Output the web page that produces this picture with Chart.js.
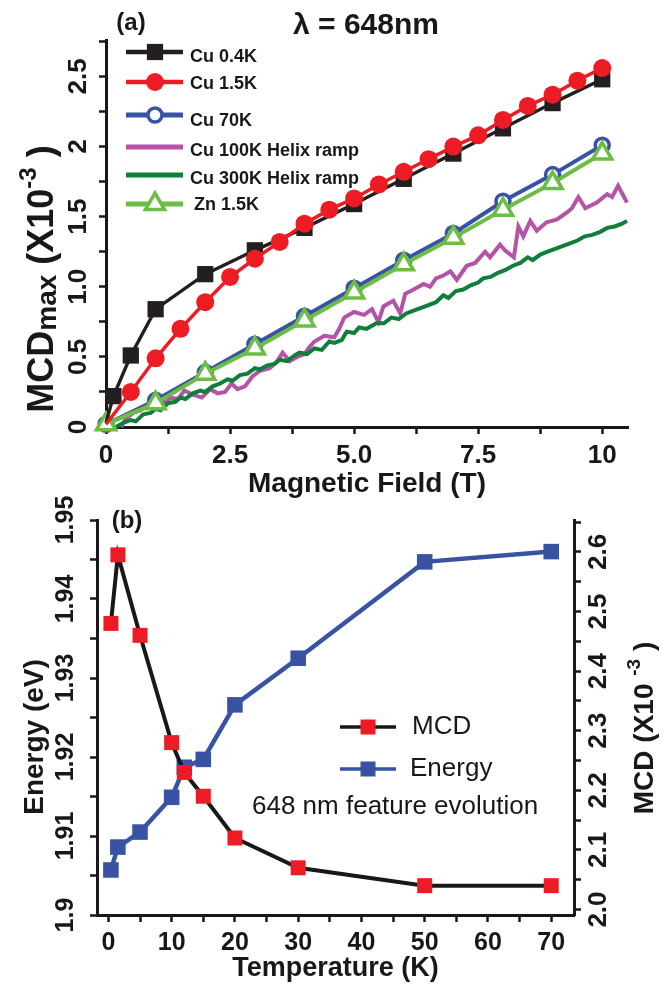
<!DOCTYPE html>
<html>
<head>
<meta charset="utf-8">
<script src="https://cdn.jsdelivr.net/npm/chart.js@4/dist/chart.umd.min.js"></script>
<style>
  html, body { margin: 0; padding: 0; background: #fff; }
  #wrap { position: relative; width: 664px; height: 985px; overflow: hidden; background: #fff; }
  canvas { position: absolute; left: 0; }
  #cA { top: 0; }
  #cB { top: 490px; }
</style>
</head>
<body>
<div id="wrap">
  <canvas id="cA" width="664" height="505"></canvas>
  <canvas id="cB" width="664" height="495"></canvas>
</div>
<script>
// ── PANEL (a): MCDmax vs magnetic field ──────────────────────────────────────
const aFieldCu04 = [0, 0.15, 0.5, 1, 2, 3, 4, 5, 6, 7, 8, 9, 10];
const aMcdCu04   = [0.03, 0.22, 0.51, 0.84, 1.09, 1.26, 1.42, 1.59, 1.77, 1.95, 2.13, 2.31, 2.48];

const aFieldCu15 = [0, 0.5, 1, 1.5, 2, 2.5, 3, 3.5, 4, 4.5, 5, 5.5, 6, 6.5, 7, 7.5, 8, 8.5, 9, 9.5, 10];
const aMcdCu15   = [0.02, 0.25, 0.49, 0.70, 0.89, 1.07, 1.20, 1.32, 1.45, 1.55, 1.63, 1.73, 1.82, 1.91, 2.00, 2.08, 2.19, 2.29, 2.37, 2.47, 2.56];

const aFieldStep = [0, 1, 2, 3, 4, 5, 6, 7, 8, 9, 10];
const aMcdCu70   = [0.02, 0.19, 0.39, 0.59, 0.79, 0.99, 1.19, 1.38, 1.61, 1.80, 2.01];
const aMcdZn15   = [0.02, 0.17, 0.38, 0.56, 0.76, 0.96, 1.16, 1.35, 1.55, 1.74, 1.95];

// helix ramps
const aFieldCu100 = [0.3, 0.4, 0.55, 0.7, 0.85, 1.0, 1.15, 1.3, 1.45, 1.58, 1.75, 1.93, 2.1, 2.25, 2.4, 2.53, 2.65, 2.8,
  2.95, 3.1, 3.3, 3.45, 3.56, 3.7, 3.85, 4.0, 4.1, 4.2, 4.4, 4.6, 4.7, 4.8, 5.0, 5.2, 5.36, 5.49, 5.59, 5.79, 5.93,
  6.03, 6.2, 6.4, 6.53, 6.65, 6.8, 6.94, 7.07, 7.27, 7.44, 7.64, 7.74, 7.94, 8.04, 8.22, 8.31, 8.41, 8.55, 8.68,
  8.88, 9.09, 9.29, 9.39, 9.52, 9.66, 9.89, 10.1, 10.2, 10.32, 10.5];
const aMcdCu100 = [0.00, 0.06, 0.10, 0.12, 0.16, 0.17, 0.16, 0.21, 0.20, 0.26, 0.23, 0.21, 0.27, 0.24, 0.25, 0.31, 0.27, 0.29,
  0.36, 0.40, 0.42, 0.47, 0.53, 0.47, 0.50, 0.52, 0.57, 0.61, 0.65, 0.64, 0.70, 0.78, 0.82, 0.80, 0.84, 0.75, 0.86, 0.90, 0.81,
  0.95, 0.98, 1.02, 1.00, 1.06, 1.08, 1.11, 1.05, 1.15, 1.17, 1.25, 1.21, 1.30, 1.26, 1.21, 1.43, 1.36, 1.47, 1.40,
  1.46, 1.48, 1.53, 1.56, 1.64, 1.56, 1.60, 1.66, 1.64, 1.72, 1.60];

const aFieldCu300 = [0.2, 0.35, 0.5, 0.6, 0.75, 0.9, 1.0, 1.1, 1.25, 1.4, 1.5, 1.6, 1.75, 1.9, 2.0, 2.15, 2.3, 2.45, 2.55,
  2.7, 2.85, 3.0, 3.1, 3.25, 3.4, 3.5, 3.65, 3.8, 3.9, 4.05, 4.2, 4.35, 4.5, 4.6, 4.75, 4.85, 5.0, 5.1, 5.25, 5.45,
  5.6, 5.75, 5.9, 6.05, 6.2, 6.35, 6.5, 6.65, 6.8, 6.9, 7.05, 7.2, 7.35, 7.5, 7.6, 7.75, 7.9, 8.05, 8.2, 8.35, 8.5,
  8.6, 8.75, 8.9, 9.05, 9.2, 9.35, 9.5, 9.65, 9.8, 9.95, 10.1, 10.25, 10.4, 10.5];
const aMcdCu300 = [0.00, 0.03, 0.05, 0.04, 0.09, 0.10, 0.13, 0.12, 0.17, 0.18, 0.21, 0.20, 0.24, 0.26, 0.25, 0.29, 0.31, 0.34, 0.33,
  0.37, 0.38, 0.42, 0.41, 0.44, 0.45, 0.48, 0.47, 0.51, 0.53, 0.52, 0.56, 0.55, 0.61, 0.60, 0.62, 0.68, 0.67, 0.71, 0.70, 0.74,
  0.74, 0.78, 0.77, 0.81, 0.83, 0.85, 0.87, 0.89, 0.94, 0.92, 0.97, 0.98, 1.01, 1.03, 1.06, 1.07, 1.10, 1.12, 1.15, 1.17, 1.21,
  1.19, 1.23, 1.25, 1.27, 1.29, 1.31, 1.33, 1.36, 1.37, 1.39, 1.42, 1.43, 1.45, 1.47];

const aXTicks  = [0, 1.25, 2.5, 3.75, 5, 6.25, 7.5, 8.75, 10];
const aXLabels = ['0', '', '2.5', '', '5.0', '', '7.5', '', '10'];
const aYTicks  = [0, 0.25, 0.5, 0.75, 1, 1.25, 1.5, 1.75, 2, 2.25, 2.5, 2.75];
const aYLabels = ['0', '', '0.5', '', '1.0', '', '1.5', '', '2', '', '2.5', ''];

// ── PANEL (b): 648 nm feature vs temperature ────────────────────────────────
const bTemp   = [0.4, 1.5, 5, 10, 12, 15, 20, 30, 50, 70];
const bMcd    = [2.48, 2.595, 2.46, 2.28, 2.23, 2.19, 2.12, 2.07, 2.04, 2.04];
const bEnergy = [1.9057, 1.9086, 1.9105, 1.9149, 1.9187, 1.9197, 1.9266, 1.9325, 1.9447, 1.9460];

const bXTicks   = [0, 5, 10, 15, 20, 25, 30, 35, 40, 45, 50, 55, 60, 65, 70];
const bXLabels  = ['0', '', '10', '', '20', '', '30', '', '40', '', '50', '', '60', '', '70'];
const bYLTicks  = [1.9, 1.905, 1.91, 1.915, 1.92, 1.925, 1.93, 1.935, 1.94, 1.945, 1.95];
const bYLLabels = ['1.9', '', '1.91', '', '1.92', '', '1.93', '', '1.94', '', '1.95'];
const bYRTicks  = [2.0, 2.05, 2.1, 2.15, 2.2, 2.25, 2.3, 2.35, 2.4, 2.45, 2.5, 2.55, 2.6, 2.65];
const bYRLabels = ['2.0', '', '2.1', '', '2.2', '', '2.3', '', '2.4', '', '2.5', '', '2.6', ''];

// ── shared bits ──────────────────────────────────────────────────────────────
const FONT = '"Liberation Sans", Arial, Helvetica, sans-serif';
const INK  = '#1a1718';

const pts = (xs, ys) => xs.map((x, i) => ({ x, y: ys[i] }));

function axis(ticks, labels, opts) {
  return {
    type: 'linear',
    bounds: 'data',
    min: opts.min, max: opts.max,
    position: opts.position,
    border: { display: true, color: INK, width: 3 },
    grid: { display: true, drawOnChartArea: false, drawTicks: true, tickLength: 7, tickWidth: 2.5, tickColor: INK },
    ticks: {
      autoSkip: false, color: INK, padding: opts.pad ?? 6,
      font: { family: FONT, size: opts.size, weight: 'bold' },
      minRotation: opts.rot || 0, maxRotation: opts.rot || 0,
      crossAlign: opts.rot ? 'center' : 'near',
      callback: (v, i) => labels[i] ?? ''
    },
    title: opts.title || { display: false },
    afterBuildTicks: s => { s.ticks = ticks.map(v => ({ value: v })); },
    afterFit: s => { if (opts.w != null) s.width = opts.w; if (opts.h != null) s.height = opts.h; }
  };
}

function mark(ctx, style, x, y, r, fill, stroke, lw) {
  ctx.save();
  ctx.beginPath();
  if (style === 'rect') {
    const s = r * Math.SQRT1_2;
    ctx.rect(x - s, y - s, 2 * s, 2 * s);
  } else if (style === 'circle') {
    ctx.arc(x, y, r, 0, Math.PI * 2);
  } else if (style === 'triangle') {
    let a = 0;
    ctx.moveTo(x + Math.sin(a) * r, y - Math.cos(a) * r);
    a += Math.PI * 2 / 3; ctx.lineTo(x + Math.sin(a) * r, y - Math.cos(a) * r);
    a += Math.PI * 2 / 3; ctx.lineTo(x + Math.sin(a) * r, y - Math.cos(a) * r);
    ctx.closePath();
  }
  ctx.fillStyle = fill; ctx.fill();
  if (lw) { ctx.lineWidth = lw; ctx.strokeStyle = stroke; ctx.stroke(); }
  ctx.restore();
}

// text built from pieces of different size (sub/superscripts), optionally rotated
function richText(ctx, parts, cx, cy, rot, weight) {
  ctx.save();
  ctx.translate(cx, cy);
  ctx.rotate(rot);
  ctx.fillStyle = INK;
  ctx.textAlign = 'left';
  ctx.textBaseline = 'alphabetic';
  let total = 0;
  parts.forEach(p => { ctx.font = `${weight} ${p.size}px ${FONT}`; p.w = ctx.measureText(p.text).width; total += p.w; });
  let x = -total / 2;
  const base = parts[0].size * 0.36;
  parts.forEach(p => { ctx.font = `${weight} ${p.size}px ${FONT}`; ctx.fillText(p.text, x, base + (p.shift || 0)); x += p.w; });
  ctx.restore();
}

function seg(ctx, x1, x2, y, color, lw) {
  ctx.save();
  ctx.beginPath(); ctx.moveTo(x1, y); ctx.lineTo(x2, y);
  ctx.lineWidth = lw; ctx.strokeStyle = color; ctx.lineCap = 'butt'; ctx.stroke();
  ctx.restore();
}

const baseOpts = {
  responsive: false, animation: false, events: [], devicePixelRatio: 1,
  plugins: { legend: { display: false }, tooltip: { enabled: false } },
  elements: { line: { tension: 0 } }
};

// ── chart (a) ────────────────────────────────────────────────────────────────
const legendRowsA = [
  { line: 52,  text: 57,  tx: 190 },
  { line: 82,  text: 84,  tx: 190 },
  { line: 115, text: 121, tx: 190 },
  { line: 147, text: 151, tx: 190 },
  { line: 175, text: 179, tx: 190 },
  { line: 204, text: 205, tx: 194 }
];

const panelA = {
  id: 'panelA',
  afterDraw(chart) {
    const ctx = chart.ctx;
    ctx.save();
    ctx.fillStyle = INK;
    ctx.textBaseline = 'middle';
    ctx.textAlign = 'center';
    ctx.font = `bold 30px ${FONT}`;
    ctx.fillText('λ = 648nm', 366, 26);
    ctx.font = `bold 24px ${FONT}`;
    ctx.fillText('(a)', 131, 23);
    ctx.restore();

    richText(ctx, [
      { text: 'MCD', size: 36 },
      { text: 'max', size: 28, shift: 3 },
      { text: ' (X10', size: 36 },
      { text: '-3', size: 24, shift: -17 },
      { text: ' )', size: 36 }
    ], 40, 279, -Math.PI / 2, 'bold');

    // legend
    chart.data.datasets.forEach((d, i) => {
      const r = legendRowsA[i];
      seg(ctx, 126, 183, r.line, d.borderColor, d.borderWidth + 1);
      if (d.legendMark) mark(ctx, d.pointStyle, 155, r.line, d.legendMark, d.pointBackgroundColor, d.pointBorderColor, d.pointBorderWidth);
      ctx.save();
      ctx.fillStyle = INK; ctx.font = `bold 18px ${FONT}`;
      ctx.textAlign = 'left'; ctx.textBaseline = 'middle';
      ctx.fillText(d.label, r.tx, r.text);
      ctx.restore();
    });
  }
};

new Chart(document.getElementById('cA'), {
  type: 'line',
  data: {
    datasets: [
      { label: 'Cu 0.4K', data: pts(aFieldCu04, aMcdCu04), order: 1, clip: false,
        borderColor: '#231f20', borderWidth: 3.4, pointStyle: 'rect',
        pointRadius: c => c.dataIndex === 0 ? 0 : 11.5, pointBackgroundColor: '#231f20',
        pointBorderColor: '#231f20', pointBorderWidth: 0, legendMark: 11.5 },
      { label: 'Cu 1.5K', data: pts(aFieldCu15, aMcdCu15), order: 0, clip: false,
        borderColor: '#ed1c24', borderWidth: 3.5, pointStyle: 'circle',
        pointRadius: c => c.dataIndex === 0 ? 0 : 9, pointBackgroundColor: '#ed1c24',
        pointBorderColor: '#ed1c24', pointBorderWidth: 0, legendMark: 9 },
      { label: 'Cu 70K', data: pts(aFieldStep, aMcdCu70), order: 3, clip: false,
        borderColor: '#3953a4', borderWidth: 4, pointStyle: 'circle',
        pointRadius: 7, pointBackgroundColor: '#ffffff',
        pointBorderColor: '#3953a4', pointBorderWidth: 3.5, legendMark: 7 },
      { label: 'Cu 100K Helix ramp', data: pts(aFieldCu100, aMcdCu100), order: 5, clip: false,
        borderColor: '#b553a7', borderWidth: 4, pointRadius: 0 },
      { label: 'Cu 300K Helix ramp', data: pts(aFieldCu300, aMcdCu300), order: 4, clip: false,
        borderColor: '#0f7e3b', borderWidth: 4, pointRadius: 0 },
      { label: 'Zn 1.5K', data: pts(aFieldStep, aMcdZn15), order: 2, clip: false,
        borderColor: '#6cbd45', borderWidth: 4, pointStyle: 'triangle',
        pointRadius: 11, pointBackgroundColor: '#ffffff',
        pointBorderColor: '#6cbd45', pointBorderWidth: 3.5, legendMark: 11 }
    ]
  },
  options: {
    ...baseOpts,
    layout: { padding: { top: 40, right: 36, left: 0, bottom: 0 } },
    scales: {
      x: axis(aXTicks, aXLabels, {
        min: 0, max: 10.52, position: 'bottom', size: 26, pad: 6, h: 78,
        title: { display: true, text: 'Magnetic Field (T)', color: INK,
                 font: { family: FONT, size: 28, weight: 'bold' }, padding: { top: 0, bottom: 4 } }
      }),
      y: axis(aYTicks, aYLabels, { min: 0, max: 2.76, position: 'left', size: 26, pad: 2, rot: 90, w: 106 })
    }
  },
  plugins: [panelA]
});

// ── chart (b) ────────────────────────────────────────────────────────────────
const legendRowsB = [ { y: 237, tx: 412 }, { y: 279, tx: 410 } ];

const panelB = {
  id: 'panelB',
  afterDraw(chart) {
    const ctx = chart.ctx;
    ctx.save();
    ctx.fillStyle = INK;
    ctx.textBaseline = 'middle';
    ctx.textAlign = 'center';
    ctx.font = `bold 24px ${FONT}`;
    ctx.fillText('(b)', 127, 31);
    ctx.restore();

    richText(ctx, [{ text: 'Energy (eV)', size: 28 }], 33, 247, -Math.PI / 2, 'bold');
    richText(ctx, [
      { text: 'MCD (X10 ', size: 28 },
      { text: '-3', size: 19, shift: -13 },
      { text: ' )', size: 28 }
    ], 643, 238, -Math.PI / 2, 'bold');

    chart.data.datasets.forEach((d, i) => {
      const r = legendRowsB[i];
      seg(ctx, 340, 396, r.y, d.borderColor, 3.5);
      mark(ctx, 'rect', 368, r.y, 10.6, d.pointBackgroundColor, d.pointBorderColor, 0);
      ctx.save();
      ctx.fillStyle = INK; ctx.font = `26px ${FONT}`;
      ctx.textAlign = 'left'; ctx.textBaseline = 'middle';
      ctx.fillText(d.label, r.tx, r.y);
      ctx.restore();
    });
    ctx.save();
    ctx.fillStyle = INK; ctx.font = `26px ${FONT}`;
    ctx.textAlign = 'left'; ctx.textBaseline = 'middle';
    ctx.fillText('648 nm feature evolution', 252, 317);
    ctx.restore();
  }
};

new Chart(document.getElementById('cB'), {
  type: 'line',
  data: {
    datasets: [
      { label: 'MCD', data: pts(bTemp, bMcd), yAxisID: 'yR', order: 0, clip: false,
        borderColor: '#1a1718', borderWidth: 4, pointStyle: 'rect', pointRadius: 10.6,
        pointBackgroundColor: '#ed1c24', pointBorderColor: '#ed1c24', pointBorderWidth: 0 },
      { label: 'Energy', data: pts(bTemp, bEnergy), yAxisID: 'yL', order: 1, clip: false,
        borderColor: '#3953a4', borderWidth: 4.5, pointStyle: 'rect', pointRadius: 11,
        pointBackgroundColor: '#3953a4', pointBorderColor: '#3953a4', pointBorderWidth: 0 }
    ]
  },
  options: {
    ...baseOpts,
    layout: { padding: { top: 30, right: 0, left: 0, bottom: 0 } },
    scales: {
      x: axis(bXTicks, bXLabels, {
        min: -1.8, max: 73.6, position: 'bottom', size: 25, pad: 6, h: 70,
        title: { display: true, text: 'Temperature (K)', color: INK,
                 font: { family: FONT, size: 27, weight: 'bold' }, padding: { top: 0, bottom: 0 } }
      }),
      yL: axis(bYLTicks, bYLLabels, { min: 1.9, max: 1.95, position: 'left', size: 25, pad: 0, rot: 90, w: 97 }),
      yR: axis(bYRTicks, bYRLabels, { min: 1.9908, max: 2.6535, position: 'right', size: 26, pad: 0, rot: 90, w: 90 })
    }
  },
  plugins: [panelB]
});
</script>
</body>
</html>
